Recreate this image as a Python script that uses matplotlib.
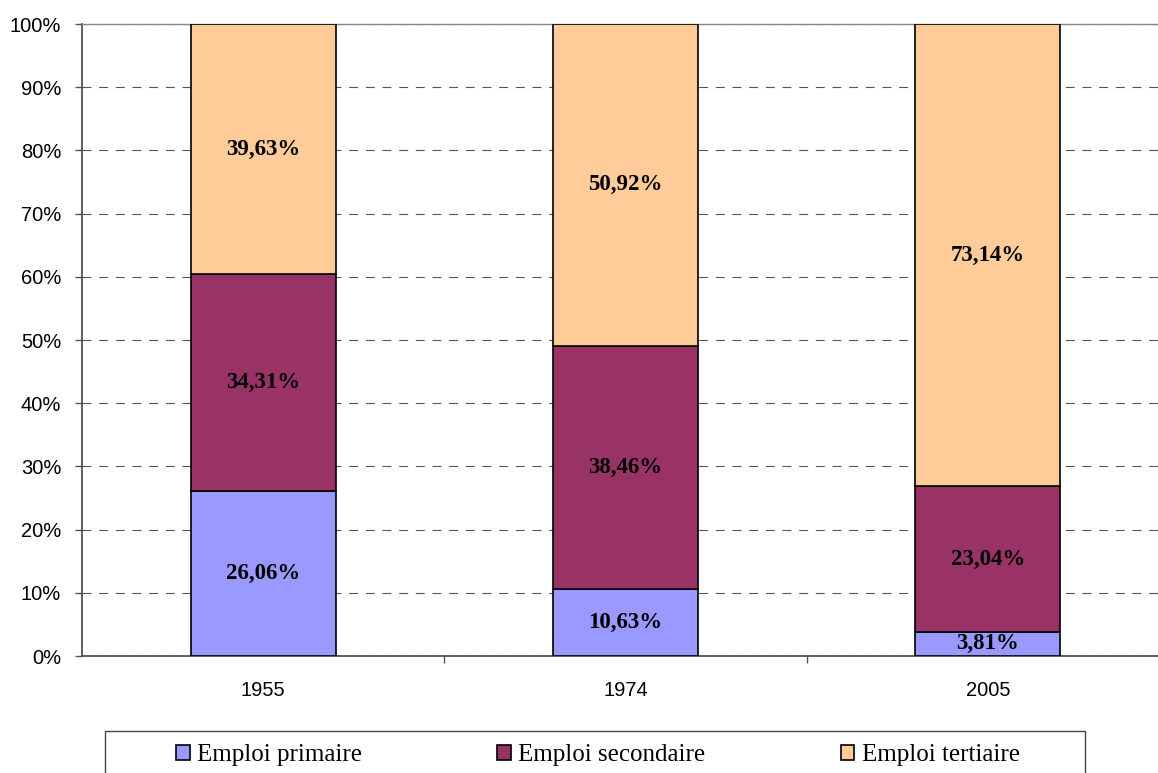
"""Employment share by sector, stacked bars."""

import matplotlib
matplotlib.use('Agg')
import matplotlib.pyplot as plt
from matplotlib.patches import Rectangle
from matplotlib.ticker import MultipleLocator, FixedLocator, PercentFormatter

YEARS = ['1955', '1974', '2005']
PRIMAIRE = [26.06, 10.63, 3.81]
SECONDAIRE = [34.31, 38.46, 23.04]
TERTIAIRE = [39.63, 50.92, 73.14]
SERIES = ['Emploi primaire', 'Emploi secondaire', 'Emploi tertiaire']
COLORS = ['#9999FF', '#993366', '#FFCC99']

W, H = 1158, 773


def fmt(v):
  return f'{v:.2f}'.replace('.', ',') + '%'


fig = plt.figure(figsize=(W / 100, H / 100), dpi=100)
ax = fig.add_axes([82 / W, (H - 656) / H, 1087 / W, 632 / H])

x = list(range(len(YEARS)))
bottom = [0.0] * len(YEARS)
for vals, color, name in zip([PRIMAIRE, SECONDAIRE, TERTIAIRE], COLORS, SERIES):
  ax.bar(x, vals, width=0.4, bottom=bottom, color=color, edgecolor='black',
         linewidth=1.2, label=name, zorder=3)
  for xi, b, v in zip(x, bottom, vals):
    ax.text(xi, b + v / 2, fmt(v), ha='center', va='center',
            family='Liberation Serif', fontweight='bold', fontsize=16.5,
            color='black', zorder=4)
  bottom = [b + v for b, v in zip(bottom, vals)]

ax.set_xlim(-0.5, 2.5)
ax.set_ylim(0, 100)
ax.yaxis.set_major_locator(MultipleLocator(10))
ax.yaxis.set_major_formatter(PercentFormatter(decimals=0))
ax.yaxis.grid(True, color='#555555', linewidth=0.8, linestyle=(0, (8, 7)),
              zorder=0)
ax.set_axisbelow(True)

ax.set_xticks(x)
ax.set_xticklabels(YEARS)
ax.xaxis.set_minor_locator(FixedLocator([0.5, 1.5]))
ax.tick_params(axis='x', which='major', length=0, pad=18)
ax.tick_params(axis='x', which='minor', length=5, color='#555555', width=1)
ax.tick_params(axis='y', length=5, color='#555555', width=1, pad=10)
for lab in ax.get_xticklabels() + ax.get_yticklabels():
  lab.set_family('Liberation Sans')
  lab.set_fontsize(14.5)

ax.spines['right'].set_visible(False)
ax.spines['top'].set_color('#888888')
ax.spines['top'].set_linewidth(1)
for s in ['left', 'bottom']:
  ax.spines[s].set_color('#444444')
  ax.spines[s].set_linewidth(1.2)

# legend frame, partly below the figure edge
fig.patches.append(Rectangle((105 / W, -0.05), 980 / W, (H - 731) / H + 0.05,
                             transform=fig.transFigure, facecolor='white',
                             edgecolor='#444444', linewidth=1))
handles, labels = ax.get_legend_handles_labels()
leg = fig.legend(handles, labels, ncol=3, loc='center left',
                 bbox_to_anchor=(176 / W, (H - 755) / H), frameon=False,
                 prop={'family': 'Liberation Serif', 'size': 18},
                 handlelength=0.55, handleheight=0.55, handletextpad=0.3,
                 columnspacing=5.4, borderpad=0, borderaxespad=0)

fig.savefig('out.png', dpi=100)
